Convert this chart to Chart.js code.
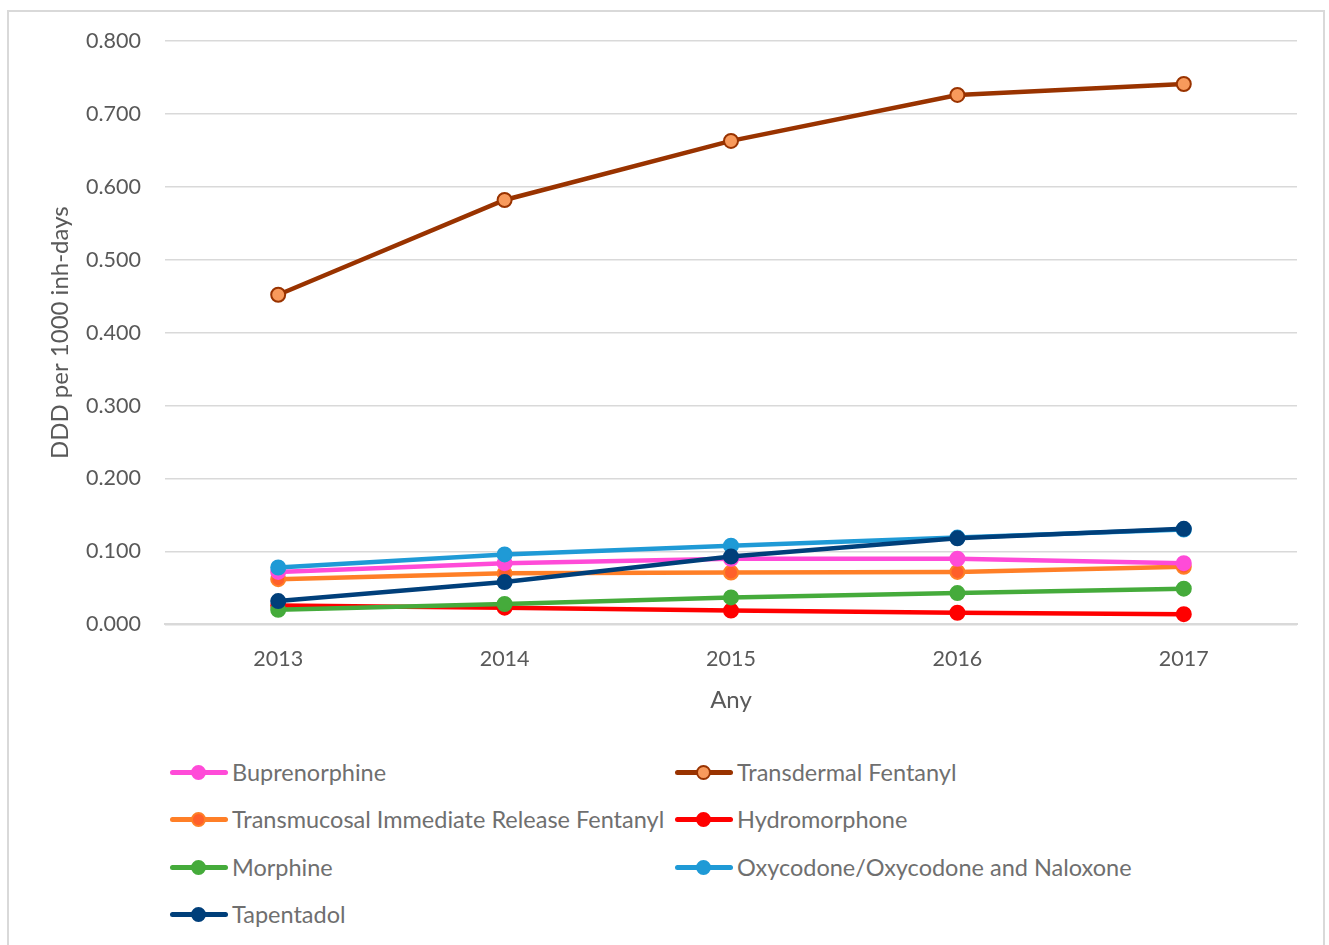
<!DOCTYPE html>
<html>
<head>
<meta charset="utf-8">
<script src="https://cdn.jsdelivr.net/npm/chart.js@4/dist/chart.umd.min.js"></script>
<style>
  html, body { margin: 0; padding: 0; background: #fff; overflow: hidden; }
  body { width: 1329px; height: 945px; position: relative; font-family: Lato, "Open Sans", sans-serif; }
  #frame { position: absolute; left: 7px; top: 10px; width: 1318px; height: 960px; border: 2px solid #d9d9d9; box-sizing: border-box; }
  #wrap { position: absolute; left: 0; top: 0; width: 1329px; height: 733px; }
  #legend { position: absolute; left: 170px; top: 752px; display: grid; grid-template-columns: 505px 500px; grid-auto-rows: 47.3px; }
  .item { display: flex; align-items: center; height: 40px; font-size: 23.5px; color: #6f6f6f; white-space: nowrap; }
  .mark { position: relative; width: 58px; height: 14px; margin-right: 4px; flex: none; }
  .mark .ln { position: absolute; left: 0; right: 0; top: 5px; height: 5px; border-radius: 3px; }
  .mark .dot { position: absolute; left: 21px; top: 0; width: 15px; height: 15px; border-radius: 50%; box-sizing: border-box; }
</style>
</head>
<body>
<div id="frame"></div>
<div id="wrap"><canvas id="myChart"></canvas></div>
<div id="legend"></div>
<script>
const years = ["2013", "2014", "2015", "2016", "2017"];
const seriesNames = ["Buprenorphine", "Transdermal Fentanyl", "Transmucosal Immediate Release Fentanyl", "Hydromorphone", "Morphine", "Oxycodone/Oxycodone and Naloxone", "Tapentadol"];
const buprenorphine = [0.072, 0.084, 0.090, 0.090, 0.084];
const transdermalFentanyl = [0.452, 0.582, 0.663, 0.726, 0.741];
const transmucosalFentanyl = [0.062, 0.070, 0.071, 0.072, 0.079];
const hydromorphone = [0.026, 0.023, 0.019, 0.016, 0.014];
const morphine = [0.020, 0.028, 0.037, 0.043, 0.049];
const oxycodone = [0.078, 0.096, 0.108, 0.119, 0.130];
const tapentadol = [0.032, 0.058, 0.093, 0.118, 0.131];
const lineColors = ["#ff4bd8", "#993300", "#ff7f27", "#ff0000", "#45ab3b", "#1f9ad6", "#003f7a"];
const pointFills = ["#ff4bd8", "#f89a5c", "#ff5f2a", "#ff0000", "#45ab3b", "#1f9ad6", "#003f7a"];

Chart.defaults.font.family = "Lato, 'Open Sans', sans-serif";
Chart.defaults.color = "#595959";

const allValues = [buprenorphine, transdermalFentanyl, transmucosalFentanyl, hydromorphone, morphine, oxycodone, tapentadol];
// later datasets on top, keep Tapentadol / Oxycodone on top like the original
const datasets = allValues.map((vals, i) => ({
  label: seriesNames[i],
  data: vals,
  borderColor: lineColors[i],
  backgroundColor: pointFills[i],
  pointBackgroundColor: pointFills[i],
  pointBorderColor: lineColors[i],
  pointBorderWidth: 2,
  pointRadius: 7,
  pointHoverRadius: 7,
  borderWidth: 4.5,
  tension: 0,
  order: [3, 1, 4, 6, 5, 2, 0][i]
}));

const charts = document.getElementById("myChart");
const config = {
  type: "line",
  data: { labels: years, datasets: datasets },
  options: {
    responsive: true,
    maintainAspectRatio: false,
    animation: false,
    layout: { padding: { left: 40, right: 32, top: 41, bottom: 0 } },
    plugins: {
      legend: { display: false },
      tooltip: { enabled: false }
    },
    scales: {
      x: {
        type: "category",
        offset: true,
        grid: { display: false, drawTicks: false },
        border: { display: true, color: "#d9d9d9", width: 2 },
        ticks: { padding: 22, font: { size: 21.5 }, color: "#595959" },
        title: { display: true, text: "Any", font: { size: 24 }, color: "#595959", padding: { top: -8, bottom: 18 } }
      },
      y: {
        min: 0,
        max: 0.8,
        grid: { color: "#d9d9d9", lineWidth: 1.5, drawTicks: false },
        border: { display: false },
        ticks: {
          stepSize: 0.1,
          padding: 24,
          font: { size: 21.5 },
          color: "#595959",
          callback: v => v.toFixed(3)
        },
        title: { display: true, text: "DDD per 1000 inh-days", font: { size: 24 }, color: "#595959", padding: { top: 6, bottom: 0 } },
        afterFit: s => { s.width = 125; }
      }
    }
  }
};
const lineChart = new Chart(charts, config);

// two-column legend like the spreadsheet original
const legend = document.getElementById("legend");
datasets.forEach(ds => {
  const item = document.createElement("div");
  item.className = "item";
  const mark = document.createElement("span");
  mark.className = "mark";
  const ln = document.createElement("span");
  ln.className = "ln";
  ln.style.background = ds.borderColor;
  const dot = document.createElement("span");
  dot.className = "dot";
  dot.style.background = ds.pointBackgroundColor;
  dot.style.border = "2px solid " + ds.pointBorderColor;
  mark.appendChild(ln);
  mark.appendChild(dot);
  item.appendChild(mark);
  item.appendChild(document.createTextNode(ds.label));
  legend.appendChild(item);
});
</script>
</body>
</html>
